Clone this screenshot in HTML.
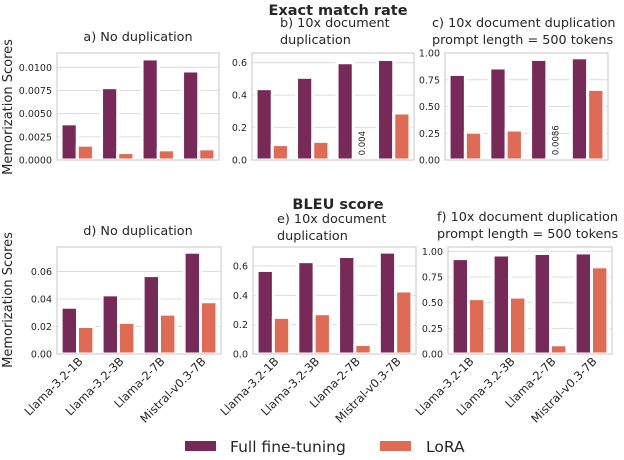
<!DOCTYPE html>
<html><head><meta charset="utf-8">
<style>
body{margin:0;background:#fff;width:624px;height:456px;overflow:hidden;font-family:"DejaVu Sans","Liberation Sans",sans-serif;}
svg text{font-family:"DejaVu Sans","Liberation Sans",sans-serif;fill:#262626;}
</style></head>
<body>
<svg id="chart" width="624" height="456" viewBox="0 0 624 456" xmlns="http://www.w3.org/2000/svg">
<text x="338" y="15" text-anchor="middle" font-size="14.5" font-weight="bold">Exact match rate</text>
<text x="338" y="209" text-anchor="middle" font-size="14.5" font-weight="bold">BLEU score</text>
<text transform="translate(12,107) rotate(-90)" text-anchor="middle" font-size="13">Memorization Scores</text>
<text transform="translate(12,300) rotate(-90)" text-anchor="middle" font-size="13">Memorization Scores</text>
<g>
<rect x="185" y="441" width="31" height="10" fill="#772a58"/>
<text x="230" y="452" font-size="15.5">Full fine-tuning</text>
<rect x="380" y="441" width="31" height="10" fill="#e06b55"/>
<text x="426" y="452" font-size="15.5">LoRA</text>
</g>
</svg>
<script>
const categories = ["Llama-3.2-1B","Llama-3.2-3B","Llama-2-7B","Mistral-v0.3-7B"];
const fullA = [0.0039,0.0078,0.0109,0.0096];
const loraA = [0.0016,0.0008,0.0011,0.0012];
const fullB = [0.44,0.51,0.60,0.62];
const loraB = [0.095,0.115,0.004,0.29];
const fullC = [0.80,0.86,0.94,0.955];
const loraC = [0.26,0.28,0.0086,0.66];
const fullD = [0.034,0.043,0.057,0.074];
const loraD = [0.020,0.023,0.029,0.038];
const fullE = [0.57,0.63,0.665,0.695];
const loraE = [0.25,0.275,0.065,0.43];
const fullF = [0.93,0.965,0.98,0.985];
const loraF = [0.54,0.555,0.09,0.85];
const ticksA = ["0.0000","0.0025","0.0050","0.0075","0.0100"];
const ticksB = ["0.0","0.2","0.4","0.6"];
const ticksC = ["0.00","0.25","0.50","0.75","1.00"];
const ticksD = ["0.00","0.02","0.04","0.06"];
const ticksE = ["0.0","0.2","0.4","0.6"];
const ticksF = ["0.00","0.25","0.50","0.75","1.00"];
const annotB = "0.004";
const annotC = "0.0086";

const NS="http://www.w3.org/2000/svg";
const svg=document.getElementById('chart');
function mk(tag,attrs,parent){const e=document.createElementNS(NS,tag);for(const k in attrs)e.setAttribute(k,attrs[k]);(parent||svg).appendChild(e);return e;}

const panels=[
 {id:'a',x0:57,x1:219,y0:53,y1:160,max:0.01154,full:fullA,lora:loraA,ticks:ticksA,title:["a) No duplication"],ty:41,tx:138,anchor:'middle'},
 {id:'b',x0:252,x1:414,y0:53,y1:160,max:0.66,full:fullB,lora:loraB,ticks:ticksB,title:["b) 10x document","duplication"],ty:27,tx:280,anchor:'start',annot:annotB,annotIdx:2},
 {id:'c',x0:445,x1:608,y0:53,y1:160,max:1.0,full:fullC,lora:loraC,ticks:ticksC,title:["c) 10x document duplication","prompt length = 500 tokens"],ty:27,tx:432,anchor:'start',annot:annotC,annotIdx:2},
 {id:'d',x0:57,x1:221,y0:247,y1:354,max:0.0778,full:fullD,lora:loraD,ticks:ticksD,title:["d) No duplication"],ty:235,tx:138,anchor:'middle',xl:true},
 {id:'e',x0:253,x1:416,y0:247,y1:354,max:0.73,full:fullE,lora:loraE,ticks:ticksE,title:["e) 10x document","duplication"],ty:223,tx:277,anchor:'start',xl:true},
 {id:'f',x0:448,x1:612,y0:247,y1:354,max:1.043,full:fullF,lora:loraF,ticks:ticksF,title:["f) 10x document duplication","prompt length = 500 tokens"],ty:221,tx:437,anchor:'start',xl:true}
];

panels.forEach(p=>{
 const g=mk('g',{});
 
 
 const ys=v=>p.y1-(v/p.max)*(p.y1-p.y0);
 const band=(p.x1-p.x0)/categories.length;
 const xc=i=>p.x0+band*(i+0.5);
 p.ticks.forEach(t=>{
  const y=ys(parseFloat(t));
  const l=mk('line',{x1:p.x0,x2:p.x1,y1:y,y2:y,stroke:'#dcdcdc','stroke-width':1},g);
  
  
  const tx=mk('text',{x:p.x0-5,y:y+3.5,'text-anchor':'end','font-size':'9.5'},g);
  tx.textContent=t;
  
  
 });
 const bw=band*0.4;
 categories.forEach((c,i)=>{
  const vf=p.full[i], vl=p.lora[i];
  const bf=mk('rect',{x:xc(i)-bw,y:ys(vf),width:bw,height:p.y1-ys(vf),fill:'#772a58',stroke:'#fff','stroke-width':3},g);
  
  
  const bl=mk('rect',{x:xc(i),y:ys(vl),width:bw,height:p.y1-ys(vl),fill:'#e06b55',stroke:'#fff','stroke-width':3},g);
  
  
  if(p.xl){
   const t=mk('text',{transform:`translate(${xc(i)+6},${p.y1+8}) rotate(-45)`,'text-anchor':'end','font-size':'11.5'},g);
   t.textContent=c;
   
   
  }
 });
 if(p.annot){
  const i=p.annotIdx;
  const ax=xc(i)+bw/2+3.5, ay=ys(p.lora[i])-4;
  const t=mk('text',{transform:`translate(${ax},${ay}) rotate(-90)`,'text-anchor':'start','font-size':'8.5'},g);
  t.textContent=p.annot;
  
  
 }
 const fr=mk('rect',{x:p.x0,y:p.y0,width:p.x1-p.x0,height:p.y1-p.y0,fill:'none',stroke:'#d0d0d0','stroke-width':1.2},g);
 
 
 p.title.forEach((s,k)=>{
  const t=mk('text',{x:p.tx,y:p.ty+k*17,'text-anchor':p.anchor,'font-size':'12.8'},g);
  t.textContent=s;
  
  
 });
});
</script>
</body></html>
